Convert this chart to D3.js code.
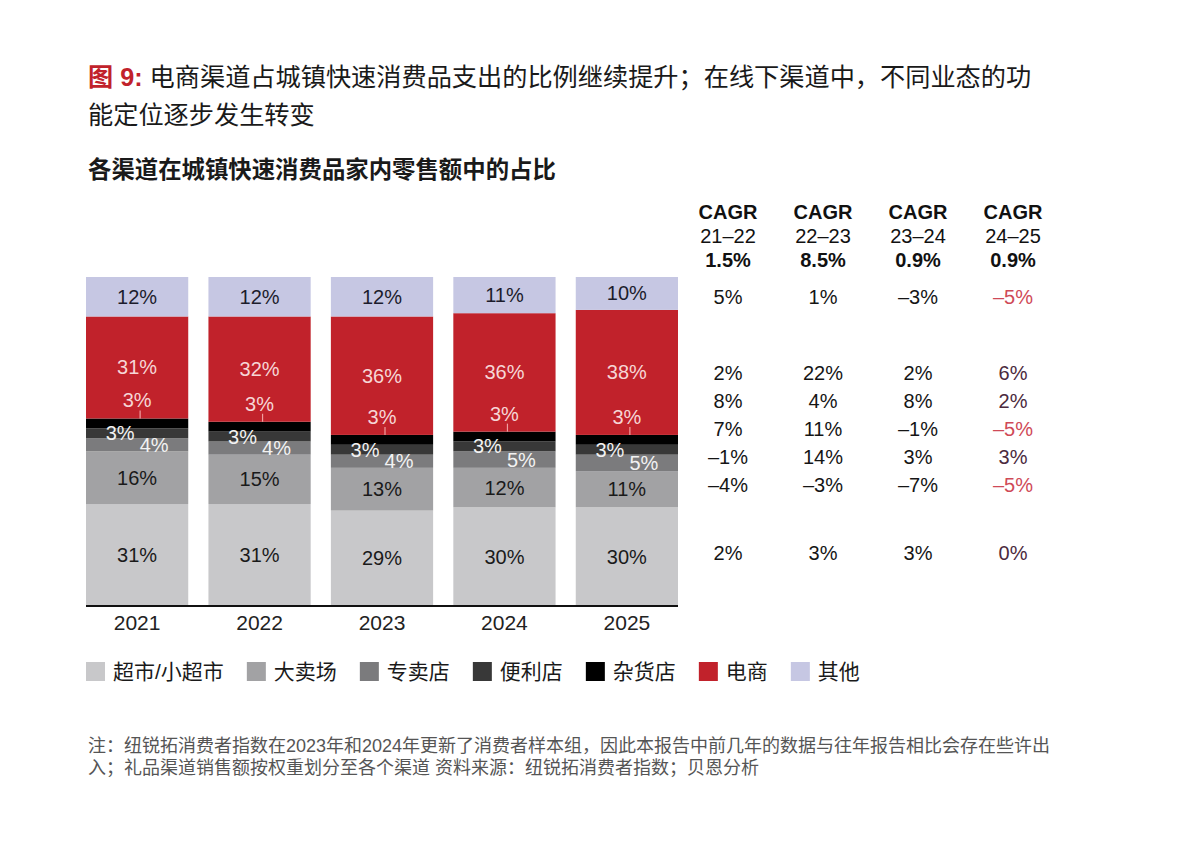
<!DOCTYPE html>
<html>
<head>
<meta charset="utf-8">
<script src="https://cdn.jsdelivr.net/npm/d3@7/dist/d3.min.js"></script>
<style>
  body { margin: 0; background: #fff; }
  svg { display: block; font-family: "Liberation Sans", "Noto Sans CJK SC", sans-serif; }
</style>
</head>
<body>
<div id="chart"></div>
<script>
// 年份与渠道
const years = ["2021", "2022", "2023", "2024", "2025"];
const channels = ["超市/小超市", "大卖场", "专卖店", "便利店", "杂货店", "电商", "其他"];

// 各渠道占比 (%)，按年份
const supermarket = [31, 31, 29, 30, 30];
const hypermarket = [16, 15, 13, 12, 11];
const specialty = [4, 4, 4, 5, 5];
const convenience = [3, 3, 3, 3, 3];
const grocery = [3, 3, 3, 3, 3];
const ecommerce = [31, 32, 36, 36, 38];
const other = [12, 12, 12, 11, 10];

// CAGR 表
const periods = ["21–22", "22–23", "23–24", "24–25"];
const totalCagr = [1.5, 8.5, 0.9, 0.9];
const cagrOther = [5, 1, -3, -5];
const cagrEcommerce = [2, 22, 2, 6];
const cagrGrocery = [8, 4, 8, 2];
const cagrConvenience = [7, 11, -1, -5];
const cagrSpecialty = [-1, 14, 3, 3];
const cagrHypermarket = [-4, -3, -7, -5];
const cagrSupermarket = [2, 3, 3, 0];

const colors = ["#c8c8ca", "#a2a2a4", "#7b7b7d", "#383838", "#000000", "#c1222b", "#c6c7e3"];
const labelColors = ["#1a1a1a", "#1a1a1a", "#f2f2f2", "#f2f2f2", "#f6d6d6", "#f6d6d6", "#1c1c2c"];

const series = [supermarket, hypermarket, specialty, convenience, grocery, ecommerce, other];
const table = years.map((y, i) => {
  const row = { year: y };
  channels.forEach((c, k) => (row[c] = series[k][i]));
  return row;
});

const W = 1179, H = 863;
const svg = d3.select("#chart").append("svg").attr("width", W).attr("height", H);

// 标题
const title = svg.append("text").attr("x", 88).attr("y", 86).attr("font-size", 25.2).attr("fill", "#1a1a1a");
title.append("tspan").attr("fill", "#c1222b").attr("font-weight", "bold").text("图 9: ");
title.append("tspan").text("电商渠道占城镇快速消费品支出的比例继续提升；在线下渠道中，不同业态的功");
svg.append("text").attr("x", 88).attr("y", 124).attr("font-size", 25.2).attr("fill", "#1a1a1a")
  .text("能定位逐步发生转变");
svg.append("text").attr("x", 88).attr("y", 178).attr("font-size", 23.4).attr("font-weight", "bold")
  .attr("fill", "#1a1a1a").text("各渠道在城镇快速消费品家内零售额中的占比");

// 比例尺
const x = d3.scaleBand().domain(years).range([86, 678]).paddingInner(0.165).paddingOuter(0);
const y = d3.scaleLinear().domain([0, 100]).range([606, 277]);

const stacked = d3.stack().keys(channels)(table);

const layers = svg.append("g").selectAll("g")
  .data(stacked)
  .join("g")
  .attr("fill", (d, i) => colors[i]);

layers.selectAll("rect")
  .data(d => d)
  .join("rect")
  .attr("x", d => x(d.data.year))
  .attr("width", x.bandwidth())
  .attr("y", d => y(d[1]))
  .attr("height", d => y(d[0]) - y(d[1]));

// 标签
const labelG = svg.append("g").attr("font-size", 20).attr("text-anchor", "middle");
stacked.forEach((layer, k) => {
  layer.forEach((d, i) => {
    const cx = x(d.data.year) + x.bandwidth() / 2;
    const mid = (y(d[0]) + y(d[1])) / 2;
    let lx = cx, ly = mid;
    if (k === 2) lx = cx + 17;        // 专卖店 右移
    if (k === 3) lx = cx - 17;        // 便利店 左移
    if (k === 4) {                    // 杂货店 标签放在电商区域内
      ly = y(d[1]) - 18;
      svg.append("line")
        .attr("x1", cx + 3).attr("x2", cx + 3)
        .attr("y1", y(d[1]) - 8).attr("y2", y(d[1]))
        .attr("stroke", "#f0a0a0").attr("stroke-width", 1.2);
    }
    labelG.append("text")
      .attr("x", lx).attr("y", ly).attr("dy", "0.35em")
      .attr("fill", labelColors[k])
      .text(series[k][i] + "%");
  });
});

// 底线与年份
svg.append("line").attr("x1", 86).attr("x2", 678).attr("y1", y(0)).attr("y2", y(0))
  .attr("stroke", "#111").attr("stroke-width", 2);
const xAxis = svg.append("g").attr("transform", `translate(0,${y(0)})`)
  .call(d3.axisBottom(x).tickSize(0).tickPadding(9));
xAxis.select(".domain").remove();
xAxis.selectAll("text").attr("font-size", 21).attr("fill", "#222")
  .attr("font-family", "Liberation Sans, sans-serif");

// CAGR 表
const colX = d3.scalePoint().domain(periods).range([728, 1013]);
const head = svg.append("g").attr("text-anchor", "middle").attr("font-size", 20).attr("fill", "#111");
periods.forEach((p, i) => {
  head.append("text").attr("x", colX(p)).attr("y", 219).attr("font-weight", "bold").text("CAGR");
  head.append("text").attr("x", colX(p)).attr("y", 243).text(p);
  head.append("text").attr("x", colX(p)).attr("y", 267).attr("font-weight", "bold")
    .text(totalCagr[i].toFixed(1) + "%");
});

const cagrRows = [
  { key: "其他", vals: cagrOther, y: 297 },
  { key: "电商", vals: cagrEcommerce, y: 373 },
  { key: "杂货店", vals: cagrGrocery, y: 401 },
  { key: "便利店", vals: cagrConvenience, y: 429 },
  { key: "专卖店", vals: cagrSpecialty, y: 457 },
  { key: "大卖场", vals: cagrHypermarket, y: 485 },
  { key: "超市/小超市", vals: cagrSupermarket, y: 553 }
];
const fmt = v => (v < 0 ? "–" + Math.abs(v) : v) + "%";
const body = svg.append("g").attr("text-anchor", "middle").attr("font-size", 20);
cagrRows.forEach(r => {
  r.vals.forEach((v, i) => {
    let fill = "#151515";
    if (i === 3) fill = v < 0 ? "#cf4a57" : "#4b2a3d";
    body.append("text").attr("x", colX(periods[i])).attr("y", r.y).attr("dy", "0.35em")
      .attr("fill", fill).text(fmt(v));
  });
});

// 图例
const legend = svg.append("g").attr("font-size", 21).attr("fill", "#1a1a1a");
let lx = 86;
channels.forEach((c, i) => {
  legend.append("rect").attr("x", lx).attr("y", 662).attr("width", 19).attr("height", 19).attr("fill", colors[i]);
  const t = legend.append("text").attr("x", lx + 27).attr("y", 671).attr("dy", "0.36em").text(c);
  lx += 27 + t.node().getComputedTextLength() + 23;
});

// 注释
const note = svg.append("g").attr("font-size", 18).attr("fill", "#555");
note.append("text").attr("x", 88).attr("y", 752)
  .text("注：纽锐拓消费者指数在2023年和2024年更新了消费者样本组，因此本报告中前几年的数据与往年报告相比会存在些许出");
note.append("text").attr("x", 88).attr("y", 774)
  .text("入；礼品渠道销售额按权重划分至各个渠道 资料来源：纽锐拓消费者指数；贝恩分析");
</script>
</body>
</html>
